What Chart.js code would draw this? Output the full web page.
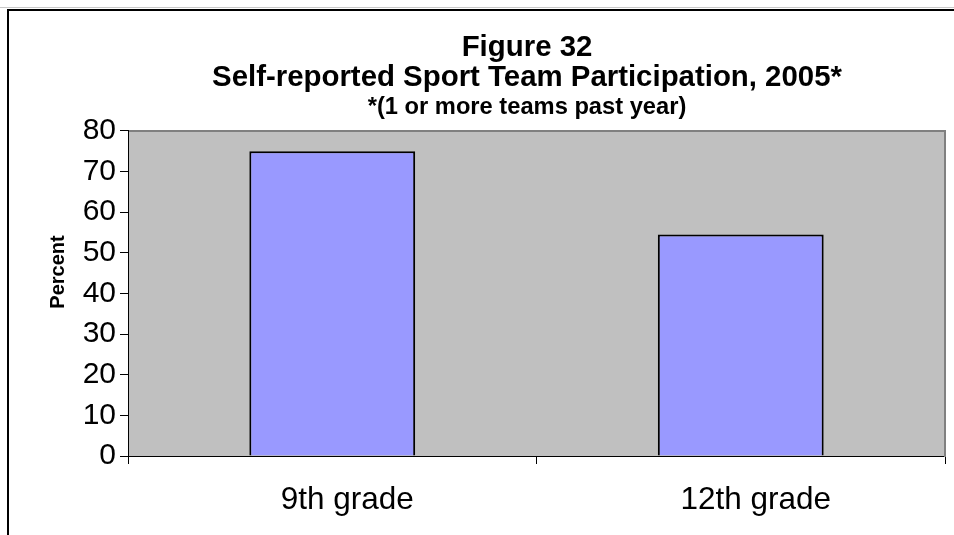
<!DOCTYPE html>
<html>
<head>
<meta charset="utf-8">
<title>Figure 32</title>
<script src="https://cdn.jsdelivr.net/npm/chart.js@4.4.1/dist/chart.umd.min.js"></script>
<style>
  html, body { margin: 0; padding: 0; background: #fff; overflow: hidden; }
  #page { position: relative; width: 954px; height: 535px; overflow: hidden; }
  #topline { position: absolute; left: 0; top: 7px; width: 954px; height: 1px; background: #c8c8c8; }
  #frame { position: absolute; left: 7px; top: 9px; width: 1100px; height: 600px;
           border-top: 2px solid #000; border-left: 2px solid #000; }
  #wrap { position: absolute; left: 0; top: 0; width: 1054px; height: 535px; }
</style>
</head>
<body>
<div id="page">
  <div id="topline"></div>
  <div id="frame"></div>
  <div id="wrap"><canvas id="chart" width="1054" height="535"></canvas></div>
</div>
<script>
    const grades = ['9th grade', '12th grade'];
    const percents = [75, 54.5];
    const yTicks = [0, 10, 20, 30, 40, 50, 60, 70, 80];

    const fontName = "'Liberation Sans', Arial, sans-serif";

    // grey plot background with a darker edge along the top
    const plotBackground = {
      id: 'plotBackground',
      beforeDraw(chart) {
        const { ctx, chartArea } = chart;
        ctx.save();
        ctx.fillStyle = '#c0c0c0';
        ctx.fillRect(chartArea.left, chartArea.top, chartArea.right - chartArea.left, chartArea.bottom - chartArea.top);
        ctx.strokeStyle = '#808080';
        ctx.lineWidth = 2;
        ctx.beginPath();
        ctx.moveTo(chartArea.left, chartArea.top);
        ctx.lineTo(chartArea.right, chartArea.top);
        ctx.stroke();
        ctx.restore();
      }
    };

    // the y title sits a little above the middle of the plot in the original
    const percentLabel = {
      id: 'percentLabel',
      afterDraw(chart) {
        const ctx = chart.ctx;
        ctx.save();
        ctx.translate(58, 272);
        ctx.rotate(-Math.PI / 2);
        ctx.font = 'bold 20px ' + fontName;
        ctx.fillStyle = '#000';
        ctx.textAlign = 'center';
        ctx.textBaseline = 'middle';
        ctx.fillText('Percent', 0, 0);
        ctx.restore();
      }
    };

    const ctx = document.getElementById('chart').getContext('2d');

    window.sportChart = new Chart(ctx, {
      type: 'bar',
      data: {
        labels: grades,
        datasets: [{
          label: 'Percent',
          data: percents,
          backgroundColor: '#9999ff',
          borderColor: '#000000',
          borderWidth: 2,
          borderSkipped: 'start',
          categoryPercentage: 1,
          barPercentage: 0.406
        }]
      },
      options: {
        responsive: false,
        animation: false,
        layout: { padding: 0 },
        plugins: {
          legend: { display: false },
          tooltip: { enabled: false },
          title: {
            display: true,
            text: ['Figure 32', 'Self-reported Sport Team Participation, 2005*'],
            color: '#000',
            font: { family: fontName, size: 29.4, weight: 'bold', lineHeight: 1.05 },
            padding: { top: 32, bottom: 0 }
          },
          subtitle: {
            display: true,
            text: '*(1 or more teams past year)',
            color: '#000',
            font: { family: fontName, size: 23.7, weight: 'bold', lineHeight: 1 },
            padding: { top: 2, bottom: 11.5 }
          }
        },
        scales: {
          x: {
            offset: true,
            grid: {
              offset: true,
              drawOnChartArea: false,
              color: '#000',
              tickLength: 8
            },
            border: { color: '#000', width: 1 },
            ticks: {
              color: '#000',
              font: { family: fontName, size: 31.5 },
              padding: 17,
              labelOffset: 15,
              maxRotation: 0
            },
            afterFit(scale) { scale.height = 79; }
          },
          y: {
            min: 0,
            max: 80,
            afterBuildTicks(scale) {
              scale.ticks = yTicks.map(v => ({ value: v }));
            },
            grid: {
              drawOnChartArea: false,
              color: '#000',
              tickLength: 8
            },
            border: { color: '#000', width: 1 },
            ticks: {
              color: '#000',
              font: { family: fontName, size: 30, lineHeight: 1 },
              padding: 4
            },
            afterFit(scale) { scale.width = 128; }
          },
          // empty right axis: keeps the plot off the right edge and draws its grey edge
          edge: {
            position: 'right',
            min: 0,
            max: 80,
            grid: { drawOnChartArea: false, drawTicks: false },
            border: { color: '#808080', width: 2 },
            ticks: { display: false },
            afterFit(scale) { scale.width = 109; }
          }
        }
      },
      plugins: [plotBackground, percentLabel]
    });
</script>
</body>
</html>
